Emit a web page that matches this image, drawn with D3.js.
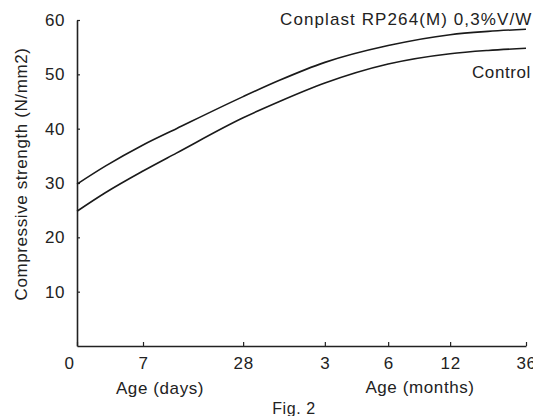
<!DOCTYPE html>
<html>
<head>
<meta charset="utf-8">
<script src="https://cdn.jsdelivr.net/npm/d3@7"></script>
<style>
  body { margin: 0; background: #fff; }
  svg text { font-family: "Liberation Sans", Arial, sans-serif; fill: #222; letter-spacing: 0.6px; }
</style>
</head>
<body>
<svg id="chart" width="533" height="416"></svg>
<script>

// age in days (3, 6, 12, 36 months taken as 91, 182, 365, 1095 days)
var ageDays = [0, 3, 7, 14, 28, 56, 91, 182, 365, 730, 1095];
var conplast = [29.8, 33.1, 37.0, 40.0, 45.9, 48.9, 52.2, 55.3, 57.3, 57.9, 58.3];
var control = [24.8, 28.2, 32.2, 35.5, 42.0, 45.0, 48.4, 51.9, 53.8, 54.4, 54.8];

var tickDays = [0, 7, 28, 91, 182, 365, 1095];
var tickText = ["0", "7", "28", "3", "6", "12", "36"];
var yTicks = [10, 20, 30, 40, 50, 60];

var svg = d3.select("#chart"),
    margin = {top: 20, right: 7, bottom: 70, left: 77},
    width = +svg.attr("width") - margin.left - margin.right,
    height = +svg.attr("height") - margin.top - margin.bottom,
    g = svg.append("g").attr("transform", "translate(" + margin.left + "," + margin.top + ")");

svg.insert("rect", ":first-child").attr("width", 533).attr("height", 416).attr("fill", "#fff");

// the time axis is not uniform in the original: each tick sits at its own place
var stops = [0, 0.147, 0.370, 0.552, 0.693, 0.831, 1];
var x = d3.scaleLinear()
    .domain(tickDays)
    .range(stops.map(function(f) { return f * width; }));

var y = d3.scaleLinear()
    .domain([0, 60])
    .range([height, 0]);

var xAxis = g.append("g")
    .attr("transform", "translate(0," + height + ")")
    .call(d3.axisBottom(x)
      .tickValues(tickDays)
      .tickFormat(function(d, i) { return tickText[i]; })
      .tickSizeInner(-4)
      .tickSizeOuter(0)
      .tickPadding(11));

xAxis.select(".domain").attr("stroke", "#222").attr("stroke-width", 1.6);
xAxis.selectAll(".tick line").attr("stroke", "#222").attr("stroke-width", 1.2);
xAxis.selectAll(".tick text")
    .attr("font-size", 17)
    .attr("dx", function(d, i) { return i === 0 ? -8 : 0; });

var yAxis = g.append("g")
    .call(d3.axisLeft(y)
      .tickValues(yTicks)
      .tickSizeInner(-3)
      .tickSizeOuter(0)
      .tickPadding(12));

yAxis.select(".domain").attr("stroke", "#222").attr("stroke-width", 1.6);
yAxis.selectAll(".tick line").attr("stroke", "#222").attr("stroke-width", 1.2);
yAxis.selectAll(".tick text").attr("font-size", 17);

var line = d3.line()
    .x(function(d) { return x(d[0]); })
    .y(function(d) { return y(d[1]); })
    .curve(d3.curveMonotoneX);

[conplast, control].forEach(function(series) {
  g.append("path")
      .datum(d3.zip(ageDays, series))
      .attr("fill", "none")
      .attr("stroke", "#1a1a1a")
      .attr("stroke-width", 1.6)
      .attr("d", line);
});

// labels
svg.append("text")
    .attr("transform", "translate(27," + 174 + ") rotate(-90)")
    .attr("text-anchor", "middle")
    .attr("font-size", 17)
    .text("Compressive strength (N/mm2)");

svg.append("text")
    .attr("x", 160).attr("y", 394)
    .attr("text-anchor", "middle")
    .attr("font-size", 17)
    .text("Age (days)");

svg.append("text")
    .attr("x", 420).attr("y", 393)
    .attr("text-anchor", "middle")
    .attr("font-size", 17)
    .text("Age (months)");

svg.append("text")
    .attr("x", 294).attr("y", 414)
    .attr("text-anchor", "middle")
    .attr("font-size", 16)
    .text("Fig. 2");

svg.append("text")
    .attr("x", 280).attr("y", 25)
    .attr("font-size", 17)
    .style("letter-spacing", "1.1px")
    .text("Conplast RP264(M) 0,3%V/W");

svg.append("text")
    .attr("x", 531).attr("y", 78)
    .attr("text-anchor", "end")
    .attr("font-size", 17)
    .text("Control");

</script>
</body>
</html>
